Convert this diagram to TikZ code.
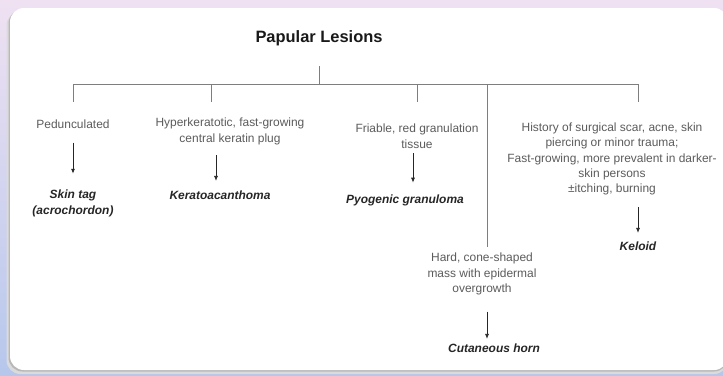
\documentclass[tikz,border=0pt]{standalone}
\usepackage{fontspec}
\setmainfont{Liberation Sans}
\usetikzlibrary{arrows.meta}
\definecolor{bgtop}{HTML}{EFE1F2}
\definecolor{bgbot}{HTML}{B6C7EC}
\definecolor{desccol}{HTML}{5C5C5C}
\definecolor{labcol}{HTML}{262626}
\definecolor{conncol}{HTML}{7E7E7E}
\begin{document}
\begin{tikzpicture}[x=1bp,y=-1bp,
  desc/.style={font=\fontsize{12}{15.5}\selectfont, text=desccol, align=center, inner sep=0pt},
  lab/.style={font=\fontsize{12}{16}\selectfont\bfseries\itshape, text=labcol, align=center, inner sep=0pt},
  conn/.style={draw=conncol, line width=0.9bp},
  arr/.style={draw=black!85, line width=0.8bp, -{Latex[length=5bp,width=4bp]}}]
\clip (0,0) rectangle (723,375);
\shade[top color=bgtop, bottom color=bgbot] (0,0) rectangle (723,375);
% panel with shadow
\fill[black!14, rounded corners=14bp] (6.5,11.5) rectangle (728,374);
\fill[black!28, rounded corners=14bp] (8.5,9.5) rectangle (728,371.5);
\fill[white, rounded corners=14bp] (10,8) rectangle (728,370);

% title
\node[font=\fontsize{16.5}{20}\selectfont\bfseries, text=black!90, inner sep=0pt] (t) at (319,38) {Papular Lesions};

% tree coordinates
\coordinate (hub) at (319,84);
\coordinate (b1) at (73,84);
\coordinate (b2) at (211,84);
\coordinate (b3) at (417,84);
\coordinate (b4) at (638,84);
\coordinate (b5) at (487,84);

% descriptive texts
\node[desc] (d1) at (73,124) {Pedunculated};
\node[desc] (d2) at (230,131.5) {Hyperkeratotic, fast-growing\\central keratin plug};
\node[desc] (d3) at (417,136) {Friable, red granulation\\tissue};
\node[desc] (d4) at (612,159) {History of surgical scar, acne, skin\\piercing or minor trauma;\\Fast-growing, more prevalent in darker-\\skin persons\\\char"00B1 itching, burning};
\node[desc] (d5) at (482,274) {Hard, cone-shaped\\mass with epidermal\\overgrowth};

% diagnoses
\node[lab] (l1) at (73,203) {Skin tag\\(acrochordon)};
\node[lab] (l2) at (220,195) {Keratoacanthoma};
\node[lab] (l3) at (405,200) {Pyogenic granuloma};
\node[lab] (l4) at (638,246) {Keloid};
\node[lab] (l5) at (494,348) {Cutaneous horn};

% connectors
\draw[conn] (hub) -- ++(0,-18);
\draw[conn] (b1) -- (b4);
\draw[conn] (b1) -- ++(0,18);
\draw[conn] (b2) -- ++(0,18);
\draw[conn] (b3) -- ++(0,18);
\draw[conn] (b4) -- ++(0,18);
\draw[conn, shorten >=6bp] (b5) -- (d5.north -| b5);

% arrows
\draw[arr, shorten <=14bp, shorten >=15.5bp] (d1.south -| l1.north) -- (l1.north);
\draw[arr, shorten <=10.5bp, shorten >=9.5bp] ([xshift=-4bp]d2.south -| l2.north) -- ([xshift=-4bp]l2.north);
\draw[arr, shorten <=5bp, shorten >=11.5bp] ([xshift=-4bp]d3.south) -- ([xshift=-4bp]l3.north -| d3.south);
\draw[arr, shorten <=11.5bp, shorten >=8.5bp] (d4.south -| l4.north) -- (l4.north);
\draw[arr, shorten <=16.5bp, shorten >=4.5bp] (d5.south -| b5) -- (l5.north -| b5);
\end{tikzpicture}
\end{document}
